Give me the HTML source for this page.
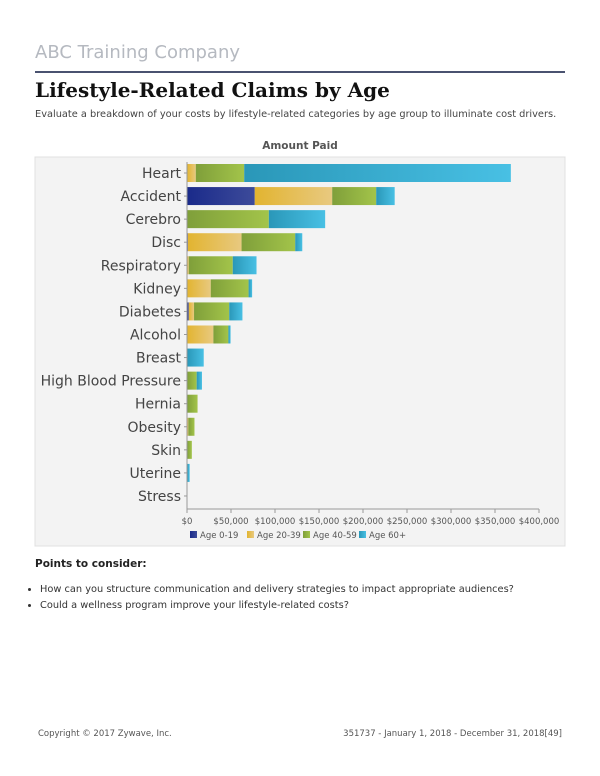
<!DOCTYPE html>
<html><head><meta charset="utf-8"><style>
body{margin:0;width:600px;height:776px;background:#fff;position:relative;font-family:"DejaVu Sans","Liberation Sans",sans-serif;overflow:hidden}
.abs{position:absolute}
</style></head><body>
<div class="abs" style="left:35px;top:42px;font-size:18px;color:#b5b9c0;font-family:'DejaVu Sans',sans-serif;">ABC Training Company</div>
<div class="abs" style="left:35px;top:71px;width:530px;height:2px;background:#4a5270"></div>
<div class="abs" style="left:35px;top:78px;font-size:20px;font-weight:bold;font-family:'DejaVu Serif','Liberation Serif',serif;color:#111">Lifestyle-Related Claims by Age</div>
<div class="abs" style="left:35px;top:109px;font-size:9.8px;color:#444">Evaluate a breakdown of your costs by lifestyle-related categories by age group to illuminate cost drivers.</div>
<div class="abs" style="left:0;width:600px;text-align:center;top:140px;font-size:10.5px;font-weight:bold;color:#555">Amount Paid</div>
<svg class="abs" style="left:0;top:0" width="600" height="776">
<defs>
<linearGradient id="g0"><stop offset="0" stop-color="#1a2a8a"/><stop offset="1" stop-color="#3d4b9a"/></linearGradient>
<linearGradient id="g1"><stop offset="0" stop-color="#e2b430"/><stop offset="1" stop-color="#e8c980"/></linearGradient>
<linearGradient id="g2"><stop offset="0" stop-color="#7f9f3a"/><stop offset="1" stop-color="#a3c44a"/></linearGradient>
<linearGradient id="g3"><stop offset="0" stop-color="#2a97b8"/><stop offset="1" stop-color="#48c0e4"/></linearGradient>
</defs>
<rect x="35" y="157" width="530" height="389" fill="#f3f3f3" stroke="#e0e0e0"/>
<g id="bars"></g><g id="labels"></g><g id="axis"></g><g id="legend"></g>
</svg>
<div class="abs" style="left:35px;top:558px;font-size:10.5px;font-weight:bold;color:#222">Points to consider:</div>
<ul class="abs" style="left:24px;top:582px;margin:0;padding-left:16px;font-size:9.8px;color:#333;line-height:16px">
<li>How can you structure communication and delivery strategies to impact appropriate audiences?</li>
<li>Could a wellness program improve your lifestyle-related costs?</li>
</ul>
<div class="abs" style="left:38px;top:729px;font-size:8.5px;color:#555">Copyright © 2017 Zywave, Inc.</div>
<div class="abs" style="right:38px;top:729px;font-size:8.5px;color:#555">351737 - January 1, 2018 - December 31, 2018[49]</div>
<script>
const categories=["Heart","Accident","Cerebro","Disc","Respiratory","Kidney","Diabetes","Alcohol","Breast","High Blood Pressure","Hernia","Obesity","Skin","Uterine","Stress"];
const age0_19=[0,77000,0,1000,0,0,2000,0,0,0,0,0,0,0,0];
const age20_39=[10000,88000,0,61000,2000,27000,6000,30000,0,0,0,1500,0,0,500];
const age40_59=[55000,50000,93000,61000,50000,43000,40000,17000,0,11000,12000,7000,5500,0,0];
const age60p=[303000,21000,64000,8000,27000,4000,15000,2500,19000,6000,0,0,0,3000,0];
const seriesNames=["Age 0-19","Age 20-39","Age 40-59","Age 60+"];
const ticks=[0,50000,100000,150000,200000,250000,300000,350000,400000];
const NS="http://www.w3.org/2000/svg";
const x0=187,x1=539,maxV=400000,yTop=173,step=23.07,bh=18;
const xs=v=>x0+v/maxV*(x1-x0);
const yc=i=>yTop+i*step;
function mk(t,a){const e=document.createElementNS(NS,t);for(const k in a)e.setAttribute(k,a[k]);return e;}
const series=[age0_19,age20_39,age40_59,age60p];
const bars=document.getElementById('bars'),labels=document.getElementById('labels'),axis=document.getElementById('axis'),legend=document.getElementById('legend');
categories.forEach((c,i)=>{
  let acc=0;
  series.forEach((s,j)=>{
    const v=s[i];if(v>0){
      const r=mk('rect',{x:xs(acc),y:yc(i)-bh/2,width:xs(acc+v)-xs(acc),height:bh,fill:`url(#g${j})`});
      
      
      bars.appendChild(r);}
    acc+=v;});
  const t=mk('text',{x:181,y:yc(i)+5,'text-anchor':'end','font-size':'14',fill:'#444','font-family':'DejaVu Sans, sans-serif'});
  t.textContent=c;
  
  
  labels.appendChild(t);
  const tk=mk('line',{x1:184,x2:187,y1:yc(i),y2:yc(i),stroke:'#999'});
  axis.appendChild(tk);
});
const yl=mk('line',{x1:187,x2:187,y1:162,y2:509,stroke:'#999'});axis.appendChild(yl);
const xl=mk('line',{x1:187,x2:539,y1:509,y2:509,stroke:'#999'});


axis.appendChild(xl);
ticks.forEach(v=>{
  axis.appendChild(mk('line',{x1:xs(v),x2:xs(v),y1:509,y2:513,stroke:'#999'}));
  const t=mk('text',{x:xs(v),y:524,'text-anchor':'middle','font-size':'8.5',fill:'#555','font-family':'DejaVu Sans, sans-serif'});
  t.textContent='$'+v.toLocaleString('en-US');
  
  
  axis.appendChild(t);
});
const lx=[190,247,303,359];
seriesNames.forEach((n,j)=>{
  const r=mk('rect',{x:lx[j],y:531,width:7,height:7,fill:`url(#g${j})`});
  
  
  legend.appendChild(r);
  const t=mk('text',{x:lx[j]+10,y:538,'font-size':'8.5',fill:'#555','font-family':'DejaVu Sans, sans-serif'});
  t.textContent=n;
  
  
  legend.appendChild(t);
});
</script>
</body></html>
